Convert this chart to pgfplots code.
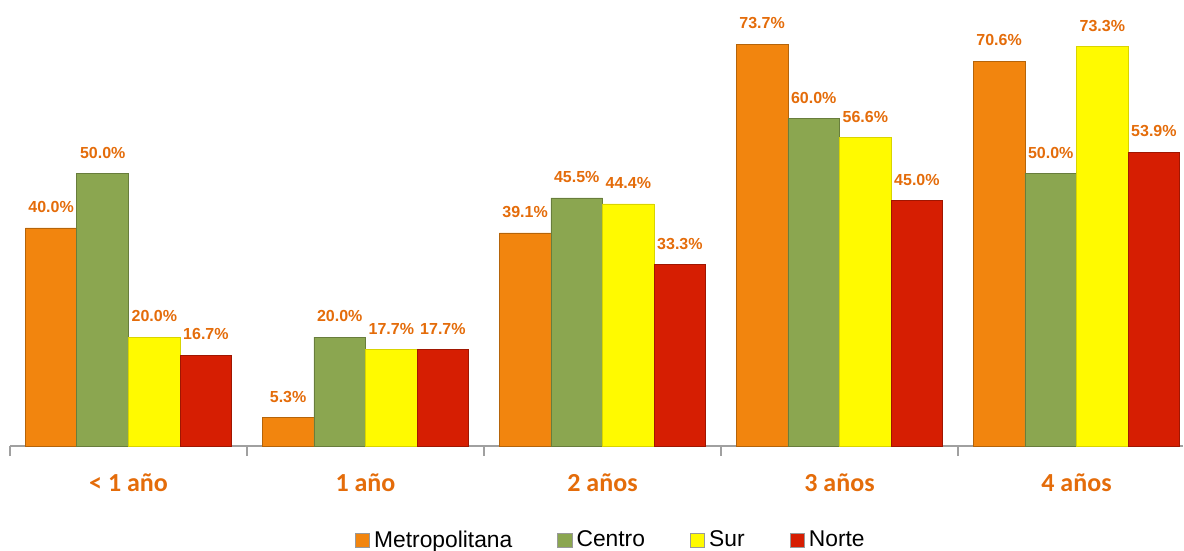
\documentclass[border=0pt]{standalone}
\usepackage{pgfplots}
\pgfplotsset{compat=1.18}
\usepackage{fontspec}
\setmainfont{Liberation Sans}
\newfontfamily\catfont{Carlito}
\definecolor{cMet}{RGB}{242,133,14}
\definecolor{cCen}{RGB}{139,166,80}
\definecolor{cSur}{RGB}{255,250,0}
\definecolor{cNor}{RGB}{214,30,2}
\definecolor{lbl}{RGB}{228,108,10}
\definecolor{axgray}{RGB}{160,160,160}

\begin{document}
\begin{tikzpicture}
\begin{axis}[
  at={(0,0)}, anchor=south west,
  x=118.5pt, y=2.7275pt,
  xmin=-0.5, xmax=4.45, ymin=0, ymax=81.8,
  ybar=0pt, bar width=25.8pt,
  hide y axis,
  axis x line*=bottom,
  x axis line style={-, axgray, line width=1pt},
  xtick={-0.5,0.5,1.5,2.5,3.5,4.5}, xticklabels={},
  major tick length=5pt, tick align=outside,
  xtick style={axgray, line width=1pt},
  clip=false,
  nodes near coords={\pgfmathprintnumber[fixed,fixed zerofill,precision=1,assume math mode=true]{\pgfplotspointmeta}\%},
  every node near coord/.append style={font=\fontsize{8}{9}\selectfont\bfseries, text=lbl, anchor=south, yshift=4pt},
  legend style={at={(0.513,-0.211)}, anchor=center, draw=none, legend columns=4,
    font=\fontsize{11.4}{12}\selectfont, column sep=0pt,
    /tikz/every even column/.append style={column sep=20.5pt}},
  legend image code/.code={\draw[#1, draw=black!40] (0pt,-3.6pt) rectangle (7.2pt,3.6pt);},
]
\addplot[fill=cMet, draw=cMet!75!black] coordinates {(0,40.0)(1,5.3)(2,39.1)(3,73.7)(4,70.6)};
\addplot[fill=cCen, draw=cCen!75!black] coordinates {(0,50.0)(1,20.0)(2,45.5)(3,60.0)(4,50.0)};
\addplot[fill=cSur, draw=cSur!85!black] coordinates {(0,20.0)(1,17.7)(2,44.4)(3,56.6)(4,73.3)};
\addplot[fill=cNor, draw=cNor!75!black] coordinates {(0,16.7)(1,17.7)(2,33.3)(3,45.0)(4,53.9)};
\legend{Metropolitana,Centro,Sur,Norte}
\node[font=\catfont\fontsize{13}{15}\selectfont\bfseries, text=lbl] at (axis cs:0,0) [yshift=-18.5pt] {< 1 año};
\node[font=\catfont\fontsize{13}{15}\selectfont\bfseries, text=lbl] at (axis cs:1,0) [yshift=-18.5pt] {1 año};
\node[font=\catfont\fontsize{13}{15}\selectfont\bfseries, text=lbl] at (axis cs:2,0) [yshift=-18.5pt] {2 años};
\node[font=\catfont\fontsize{13}{15}\selectfont\bfseries, text=lbl] at (axis cs:3,0) [yshift=-18.5pt] {3 años};
\node[font=\catfont\fontsize{13}{15}\selectfont\bfseries, text=lbl] at (axis cs:4,0) [yshift=-18.5pt] {4 años};
\end{axis}
\pgfresetboundingbox
\useasboundingbox (-5pt,-52pt) rectangle (587pt,223.1pt);
\end{tikzpicture}
\end{document}
